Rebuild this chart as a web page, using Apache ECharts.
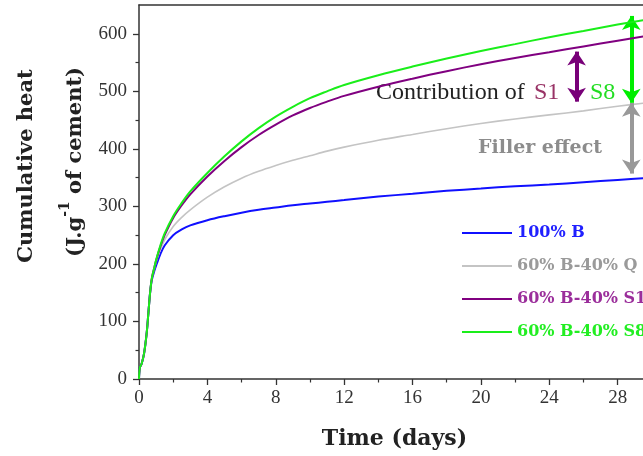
<!DOCTYPE html>
<html>
<head>
<meta charset="utf-8">
<script src="https://cdn.jsdelivr.net/npm/echarts@6/dist/echarts.min.js"></script>
<style>html,body{margin:0;padding:0;background:#fff}#c{width:643px;height:456px}</style>
</head>
<body>
<div id="c"></div>
<script>
// ---- data ----
const timeDays = [0, 0.05, 0.15, 0.3, 0.45, 0.55, 0.65, 0.75, 0.9, 1.0, 1.25, 1.5, 2, 2.5, 3, 4, 5, 6, 7, 8, 9, 10, 11, 12, 14, 16, 18, 20, 22, 24, 26, 28, 30];
const heatB  = [0, 20, 26, 45, 80, 115, 150, 172, 188, 197, 217, 232, 250, 260, 267, 276, 283, 289, 294, 298, 302, 305, 308, 311, 317, 322, 327, 331, 335, 338, 342, 346, 350];
const heatQ  = [0, 20, 26, 45, 80, 115, 150, 174, 192, 203, 225, 242, 265, 281, 294, 316, 334, 349, 361, 371, 380, 388, 396, 403, 415, 425, 435, 444, 452, 459, 466, 474, 481];
const heatS1 = [0, 20, 26, 45, 80, 115, 150, 175, 194, 206, 230, 250, 280, 302, 321, 352, 379, 403, 424, 442, 458, 471, 482, 492, 508, 522, 535, 547, 558, 568, 578, 588, 598];
const heatS8 = [0, 20, 26, 45, 80, 115, 150, 175, 194, 207, 232, 253, 283, 306, 326, 358, 387, 413, 436, 456, 473, 488, 500, 511, 528, 543, 557, 570, 582, 594, 605, 616, 626];
const seriesNames = ['100% B', '60% B-40% Q', '60% B-40% S1', '60% B-40% S8'];
const yMajorTicks = [0, 100, 200, 300, 400, 500, 600];
const yMinorTicks = [50, 150, 250, 350, 450, 550];
// annotation arrows in data units: [x, yFrom, yTo]
const arrowS1 = [25.6, 482, 569];
const arrowS8 = [28.8, 480, 631];
const arrowFiller = [28.8, 357, 480];

const lineColors = ['#1010ff', '#c4c4c4', '#800080', '#1aee1a'];
const legendColors = ['#2020ff', '#9a9a9a', '#9b2e9b', '#22ee22'];

function pairs(ys) { return timeDays.map((t, i) => [t, ys[i]]); }

const chart = echarts.init(document.getElementById('c'), null, {renderer: 'canvas'});
const axisColor = '#333';
const tickFont = {fontFamily: 'Liberation Serif', fontSize: 19, color: '#333'};

function arrowLine(a, color) {
  return {
    silent: true,
    symbol: ['arrow', 'arrow'],
    symbolSize: [14, 14],
    label: {show: false},
    lineStyle: {color: color, width: 4, type: 'solid'},
    data: [[{coord: [a[0], a[1]]}, {coord: [a[0], a[2]]}]]
  };
}

const datasets = [heatB, heatQ, heatS1, heatS8];
const series = datasets.map((d, i) => ({
  name: seriesNames[i],
  type: 'line',
  xAxisIndex: 0,
  yAxisIndex: 0,
  data: pairs(d),
  smooth: 0.35,
  showSymbol: false,
  lineStyle: {color: lineColors[i], width: i === 1 ? 1.6 : 2},
  itemStyle: {color: lineColors[i]},
  z: 3 + i
}));
series[2].markLine = arrowLine(arrowS1, '#780078');
series[3].markLine = arrowLine(arrowS8, '#00ee00');
series[1].markLine = arrowLine(arrowFiller, '#999999');

chart.setOption({
  animation: false,
  backgroundColor: '#fff',
  grid: {left: 139, top: 5, width: 547, height: 374, containLabel: false, outerBoundsMode: 'none'},
  legend: {
    orient: 'vertical',
    left: 462,
    top: 223,
    padding: 0,
    itemWidth: 50,
    itemHeight: 14,
    itemGap: 13,
    icon: 'path://M0,6 L50,6 L50,8 L0,8 Z',
    data: seriesNames.map((n, i) => ({
      name: n,
      textStyle: {color: legendColors[i]}
    })),
    textStyle: {fontFamily: 'DejaVu Serif', fontWeight: 'bold', fontSize: 16, lineHeight: 20}
  },
  xAxis: [{
    type: 'value', min: 0, max: 32, interval: 4,
    axisLine: {show: true, lineStyle: {color: axisColor, width: 1.5}},
    axisTick: {show: true, length: 6, lineStyle: {color: axisColor, width: 1.3}},
    minorTick: {show: true, splitNumber: 2, length: 3.5, lineStyle: {color: axisColor, width: 1.2}},
    splitLine: {show: false},
    axisLabel: Object.assign({margin: 10}, tickFont),
    name: 'Time (days)',
    nameLocation: 'middle',
    nameGap: 49,
    nameTextStyle: {fontFamily: 'DejaVu Serif', fontWeight: 'bold', fontSize: 22, color: '#222', padding: [0, 36, 0, 0]}
  }, {
    type: 'value', min: 0, max: 32, position: 'top',
    axisLine: {show: true, onZero: false, lineStyle: {color: axisColor, width: 1.5}},
    axisTick: {show: false}, axisLabel: {show: false}, splitLine: {show: false}
  }],
  yAxis: [{
    type: 'value', min: 0, max: 650,
    axisLine: {show: true, lineStyle: {color: axisColor, width: 1.5}},
    axisTick: {show: true, length: 6, customValues: yMajorTicks, lineStyle: {color: axisColor, width: 1.3}},
    axisLabel: Object.assign({margin: 12, customValues: yMajorTicks}, tickFont),
    splitLine: {show: false}
  }, {
    type: 'value', min: 0, max: 650, position: 'left',
    axisLine: {show: false},
    axisTick: {show: true, length: 3.5, customValues: yMinorTicks, lineStyle: {color: axisColor, width: 1.2}},
    axisLabel: {show: false, customValues: yMinorTicks},
    splitLine: {show: false}
  }],
  graphic: [
    {type: 'text', x: 27, y: 166, rotation: Math.PI / 2,
     style: {text: 'Cumulative heat', fontFamily: 'DejaVu Serif', fontWeight: 'bold', fontSize: 21, fill: '#222', align: 'center', verticalAlign: 'middle'}},
    {type: 'text', x: 72, y: 162, rotation: Math.PI / 2,
     style: {text: '{a|(J.g}{s|-1}{a| of cement)}', align: 'center', verticalAlign: 'middle',
       rich: {
         a: {fontFamily: 'DejaVu Serif', fontWeight: 'bold', fontSize: 21, fill: '#222', lineHeight: 28, verticalAlign: 'bottom'},
         s: {fontFamily: 'DejaVu Serif', fontWeight: 'bold', fontSize: 14, fill: '#222', lineHeight: 28, verticalAlign: 'top'}
       }}},
    {type: 'text', x: 376, y: 93,
     style: {text: 'Contribution of', fontFamily: 'Liberation Serif', fontSize: 24, fill: '#222', align: 'left', verticalAlign: 'middle'}},
    {type: 'text', x: 534, y: 93,
     style: {text: 'S1', fontFamily: 'Liberation Serif', fontSize: 24, fill: '#993366', align: 'left', verticalAlign: 'middle'}},
    {type: 'text', x: 590, y: 93,
     style: {text: 'S8', fontFamily: 'Liberation Serif', fontSize: 24, fill: '#22dd22', align: 'left', verticalAlign: 'middle'}},
    {type: 'text', x: 478, y: 148,
     style: {text: 'Filler effect', fontFamily: 'DejaVu Serif', fontWeight: 'bold', fontSize: 19, fill: '#8c8c8c', align: 'left', verticalAlign: 'middle'}}
  ],
  series: series
});
</script>
</body>
</html>
